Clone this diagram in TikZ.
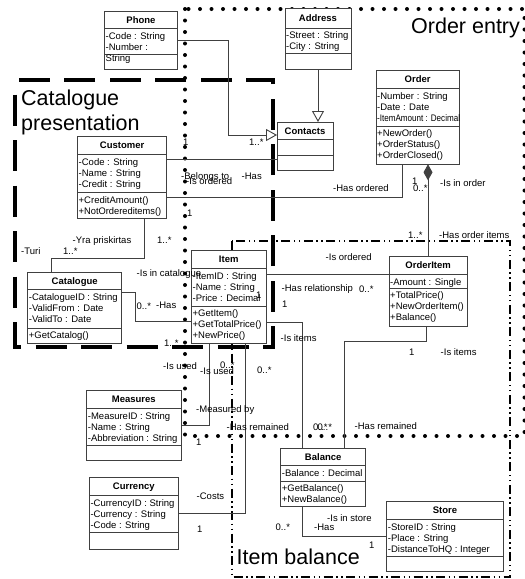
\documentclass[tikz,border=0pt]{standalone}
\usepackage{fontspec}
\setmainfont{Liberation Sans}
\usepackage{graphicx}
\usetikzlibrary{arrows.meta,fit,calc}
\tikzset{
  classbox/.style={draw=black!75, line width=0.9pt, fill=white, inner sep=0pt, outer sep=0pt},
  boxline/.style={draw=black!75, line width=0.9pt},
  clstitle/.style={font=\fontsize{9.5}{11}\selectfont\bfseries, inner sep=0pt},
  clstext/.style={font=\fontsize{9.5}{11}\selectfont, inner sep=0pt},
  lbl/.style={font=\fontsize{9.5}{11}\selectfont, inner sep=0pt, anchor=base west},
  bigtext/.style={font=\fontsize{21.5}{25}\selectfont, inner sep=0pt, anchor=base west},
  assoc/.style={draw=black!75, line width=0.9pt},
  gen/.style={assoc, -{Triangle[length=11pt,width=12pt,fill=white]}},
  comp/.style={assoc, {Diamond[length=16pt,width=9pt]}-},
  dotframe/.style={line width=4pt, line cap=round, dash pattern=on 0pt off 11.5pt},
  dashframe/.style={line width=4pt, dash pattern=on 31pt off 14.5pt, dash phase=31pt},
  dashdotframe/.style={line width=2.8pt, dash pattern=on 9pt off 3.5pt on 1.5pt off 3.5pt on 1.5pt off 3.5pt},
}
\def\titleh{17.5}
\newcommand\umlclass[9]{%
  \node[classbox, fit={(#2,#3) (#4,#5)}] (#1) {};
  \draw[boxline] (#2,#3+\titleh) -- (#4,#3+\titleh);
  \draw[boxline] (#2,#6) -- (#4,#6);
  \node[clstitle, anchor=base] (#1-title) at ({(#2+#4)/2},{#3+\titleh/2+3.5}) {#7};
  \foreach \clsline [count=\clsi] in {#8} {\node[clstext, anchor=base west] (#1-a\clsi) at ({#2+1},{#3+\titleh+10.8+11*(\clsi-1)}) {\clsline};}
  \def\clsops{#9}%
  \ifx\clsops\empty\else
  \foreach \clsline [count=\clsi] in {#9} {\node[clstext, anchor=base west] (#1-o\clsi) at ({#2+1},{#6+10.6+11*(\clsi-1)}) {\clsline};}
  \fi
}
\begin{document}
\begin{tikzpicture}[x=1pt,y=-1pt]
\useasboundingbox[fill=white] (0,0) rectangle (525,579);
% frames
\draw[dotframe] (185,9) rectangle (524.5,436);
\draw[dashframe] (15,80) rectangle (273,347);
\draw[dashdotframe] (232,241) rectangle (510,577);
% classes
\umlclass{phone}{104.5}{11}{177.5}{69.5}{54}{Phone}{-Code : String, -Number :, String}{}
\def\titleh{20}
\umlclass{address}{285}{8}{351}{69.5}{53}{Address}{-Street : String, -City : String}{}
\def\titleh{17.5}
\umlclass{order}{376}{70.7}{459.3}{164.3}{126}{Order}{-Number : String, -Date : Date, \scalebox{0.85}[1]{-ItemAmount : Decimal}}{+NewOrder(), +OrderStatus(), +OrderClosed()}
\umlclass{contacts}{277}{122}{333}{170}{155}{Contacts}{}{}
\umlclass{customer}{77.5}{136.7}{166.7}{218.3}{192.7}{Customer}{-Code : String, -Name : String, -Credit : String}{+CreditAmount(), \scalebox{0.98}[1]{+NotOrdereditems()}}
\umlclass{catalogue}{27.7}{272.3}{121.7}{343.3}{328.3}{Catalogue}{-CatalogueID : String, -ValidFrom : Date, -ValidTo : Date}{+GetCatalog()}
\umlclass{item}{191.5}{250.7}{266}{343.3}{306}{Item}{-ItemID : String, -Name : String, -Price : Decimal}{+GetItem(), +GetTotalPrice(), +NewPrice()}
\umlclass{orderitem}{389}{256.7}{467.3}{326.7}{288.3}{OrderItem}{-Amount : Single}{+TotalPrice(), +NewOrderItem(), +Balance()}
\umlclass{measures}{86.7}{390.7}{181}{460.7}{445.7}{Measures}{-MeasureID : String, -Name : String, -Abbreviation : String}{}
\umlclass{currency}{89.3}{477.7}{178.3}{549}{532.7}{Currency}{-CurrencyID : String, -Currency : String, -Code : String}{}
\umlclass{balance}{280.7}{448}{365.7}{506.7}{481}{Balance}{-Balance : Decimal}{+GetBalance(), +NewBalance()}
\umlclass{store}{386.7}{501.7}{503.3}{571.7}{556.7}{Store}{-StoreID : String, -Place : String, -DistanceToHQ : Integer}{}
% connectors
\draw[gen] (phone.east |- 0,40) -| (228,135) -- (contacts.west |- 0,135);
\draw[gen] (address.south) -- (contacts.north -| address.south);
\draw[assoc] (customer.east |- 0,159) -- (contacts.west |- 0,159);
\draw[assoc] (customer.east |- 0,197.5) -| (order.south -| 402,0);
\draw[assoc] (customer.south -| 144.3,0) |- (51.7,258.3) -- (catalogue.north -| 51.7,0);
\draw[assoc] (catalogue.east |- 0,292) -- (135,292) |- (item.west |- 0,321);
\draw[assoc] (item.east |- 0,274) -- (orderitem.west |- 0,274);
\draw[comp] (order.south -| 428,0) -- (orderitem.north -| 428,0);
\draw[assoc] (item.east |- 0,322.5) -| (balance.north -| 302,0);
\draw[assoc] (orderitem.south -| 426,0) |- (344,341.7) -- (balance.north -| 344,0);
\draw[assoc] (item.south -| 209.3,0) |- (measures.east |- 0,425);
\draw[assoc] (item.south -| 245.7,0) |- (currency.east |- 0,513.3);
\draw[assoc] (balance.south -| 302,0) |- (store.west |- 0,536);
% frame titles
\node[bigtext] (t-cat1) at (21,105) {Catalogue};
\node[bigtext] (t-cat2) at (21,130) {presentation};
\node[bigtext] (t-order) at (411,33) {Order entry};
\node[bigtext] (t-bal) at (236.5,564.5) {Item balance};
% labels
\node[lbl] (l1) at (183,145.4) {1};
\node[lbl] (l2) at (249,145) {1..*};
\node[lbl] (l3) at (181,179) {-Belongs to};
\node[lbl] (l4) at (186,184.5) {-Is ordered};
\node[lbl] (l5) at (241.5,179) {-Has};
\node[lbl] (l6) at (333,191.5) {-Has ordered};
\node[lbl] (l7) at (187,216.5) {1};
\node[lbl] (l8) at (412,184.5) {1};
\node[lbl] (l9) at (413,191.5) {0..*};
\node[lbl] (l10) at (440,186.5) {-Is in order};
\node[lbl] (l11) at (72.5,243.5) {-Yra priskirtas};
\node[lbl] (l12) at (157,243.5) {1..*};
\node[lbl] (l13) at (21,254.5) {-Turi};
\node[lbl] (l14) at (63,254.5) {1..*};
\node[lbl] (l15) at (136.5,276) {-Is in catalogue};
\node[lbl] (l16) at (136.5,309.5) {0..*};
\node[lbl] (l17) at (156,308.5) {-Has};
\node[lbl] (l18) at (164,346.5) {1..*};
\node[lbl] (l19) at (408,238.5) {1..*};
\node[lbl] (l20) at (439,238.5) {-Has order items};
\node[lbl] (l21) at (325.5,260) {-Is ordered};
\node[lbl] (l22) at (281.5,291.5) {-Has relationship};
\node[lbl] (l23) at (359,292.5) {0..*};
\node[lbl] (l24) at (256,298.5) {1};
\node[lbl] (l25) at (282,307.5) {1};
\node[lbl] (l26) at (280.5,341.5) {-Is items};
\node[lbl] (l27) at (409,355) {1};
\node[lbl] (l28) at (440.5,355.5) {-Is items};
\node[lbl] (l29) at (163,369.5) {-Is used};
\node[lbl] (l30) at (200,374.5) {-Is used};
\node[lbl] (l31) at (220,368.5) {0..*};
\node[lbl] (l32) at (257,373.5) {0..*};
\node[lbl] (l33) at (196,412.5) {-Measured by};
\node[lbl] (l34) at (226.5,430.5) {-Has remained};
\node[lbl] (l35) at (313,430) {0..*};
\node[lbl] (l36) at (317.5,430) {0..*};
\node[lbl] (l37) at (354.5,429.5) {-Has remained};
\node[lbl] (l38) at (196,445.5) {1};
\node[lbl] (l39) at (196.5,499) {-Costs};
\node[lbl] (l40) at (197,532.5) {1};
\node[lbl] (l41) at (327,521) {-Is in store};
\node[lbl] (l42) at (314,530.5) {-Has};
\node[lbl] (l43) at (275.5,530.5) {0..*};
\node[lbl] (l44) at (369,548) {1};
\end{tikzpicture}
\end{document}
